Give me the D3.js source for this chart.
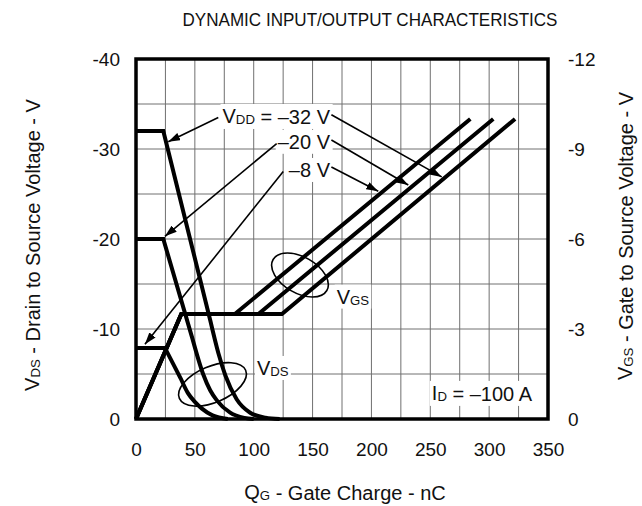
<!DOCTYPE html>
<html>
<head>
<meta charset="utf-8">
<script src="https://cdn.jsdelivr.net/npm/d3@7"></script>
<style>
  body { margin: 0; background: #fff; }
  text { font-family: "Liberation Sans", Arial, sans-serif; fill: #111; }
</style>
</head>
<body>
<div id="chart"></div>
<script>
// ---- data ----
const qTicks = [0, 50, 100, 150, 200, 250, 300, 350];
const vdsTicks = [0, -10, -20, -30, -40];
const vgsTicks = [0, -3, -6, -9, -12];
const vddLevels = ["–32 V", "–20 V", "–8 V"];

// VDS curves: straight part (plateau + fall), then the rounded tail
const vdsHead32 = [[0, -32], [23.2, -32], [63, -11]];
const vdsTail32 = [[63, -11], [70, -7.3], [76, -4.8], [85.5, -2.2], [97, -0.7], [110, -0.15], [122, 0]];
const vdsHead20 = [[0, -20], [23.2, -20], [48, -8.9]];
const vdsTail20 = [[48, -8.9], [57, -5], [63, -3.2], [68.5, -2.1], [80, -0.7], [92, -0.12], [100, 0]];
const vdsHead8 = [[0, -7.9], [24.6, -7.9], [38, -4.5]];
const vdsTail8 = [[38, -4.5], [44, -2.9], [50, -1.9], [56, -1.15], [65, -0.4], [78, 0]];

// VGS curves (right axis)
const vgs8 = [[0, 0], [38.5, -3.5], [84, -3.5], [284, -10]];
const vgs20 = [[0, 0], [38.5, -3.5], [104, -3.5], [303.5, -10]];
const vgs32 = [[0, 0], [38.5, -3.5], [124, -3.5], [322, -10]];

const W = 642, H = 506;
const plot = { left: 136, right: 548, top: 59, bottom: 419 };

const svg = d3.select("#chart").append("svg")
    .attr("width", W)
    .attr("height", H);

const x = d3.scaleLinear().domain([0, 350]).range([plot.left, plot.right]);
const yL = d3.scaleLinear().domain([0, -40]).range([plot.bottom, plot.top]);
const yR = d3.scaleLinear().domain([0, -12]).range([plot.bottom, plot.top]);

// arrow head
svg.append("defs").append("marker")
    .attr("id", "ah")
    .attr("viewBox", "0 0 12 8")
    .attr("refX", 12).attr("refY", 4)
    .attr("markerWidth", 12).attr("markerHeight", 8)
    .attr("markerUnits", "userSpaceOnUse")
    .attr("orient", "auto")
    .append("path").attr("d", "M0,0L12,4L0,8Z").attr("fill", "#000");

// grid
const grid = svg.append("g").attr("stroke", "#707070").attr("stroke-width", 1);
grid.selectAll("line.v")
    .data(d3.range(25, 350, 25))
    .join("line").attr("class", "v")
    .attr("x1", d => x(d)).attr("x2", d => x(d))
    .attr("y1", plot.top).attr("y2", plot.bottom);
grid.selectAll("line.h")
    .data(d3.range(-5, -40, -5))
    .join("line").attr("class", "h")
    .attr("x1", plot.left).attr("x2", plot.right)
    .attr("y1", d => yL(d)).attr("y2", d => yL(d));

// axes (labels only, the frame is drawn as a rect)
const axB = d3.axisBottom(x).tickValues(qTicks).tickSize(0).tickPadding(24);
const axL = d3.axisLeft(yL).tickValues(vdsTicks).tickSize(0).tickPadding(16).tickFormat(d => d === 0 ? "0" : String(d).replace("−", "-"));
const axR = d3.axisRight(yR).tickValues(vgsTicks).tickSize(0).tickPadding(20).tickFormat(d => d === 0 ? "0" : String(d).replace("−", "-"));

function styleAxis(g) {
    g.select(".domain").remove();
    g.selectAll("text").attr("font-size", 19).attr("fill", "#111")
        .attr("font-family", '"Liberation Sans", Arial, sans-serif');
}
svg.append("g").attr("transform", `translate(0,${plot.bottom})`).call(axB).call(styleAxis);
svg.append("g").attr("transform", `translate(${plot.left},0)`).call(axL).call(styleAxis);
svg.append("g").attr("transform", `translate(${plot.right},0)`).call(axR).call(styleAxis);

// curves
const lineLin = d3.line().x(d => x(d[0])).y(d => yL(d[1]));
const lineMono = d3.line().x(d => x(d[0])).y(d => yL(d[1])).curve(d3.curveMonotoneX);
const lineVgs = d3.line().x(d => x(d[0])).y(d => yR(d[1]));

const curves = svg.append("g").attr("fill", "none").attr("stroke", "#000")
    .attr("stroke-width", 4).attr("stroke-linejoin", "miter");
[[vdsHead32, vdsTail32], [vdsHead20, vdsTail20], [vdsHead8, vdsTail8]].forEach(([head, tail]) => {
    curves.append("path").attr("d", lineLin(head) + lineMono(tail).replace(/^M/, "L"));
});
[vgs8, vgs20, vgs32].forEach(s => curves.append("path").attr("d", lineVgs(s)));

// frame
svg.append("rect")
    .attr("x", plot.left).attr("y", plot.top)
    .attr("width", plot.right - plot.left).attr("height", plot.bottom - plot.top)
    .attr("fill", "none").attr("stroke", "#000").attr("stroke-width", 3.5);

// ---- annotations ----
const ann = svg.append("g");

function rich(g, parts, px, py, anchor, size) {
    const t = g.append("text")
        .attr("x", px).attr("y", py)
        .attr("dy", "0.35em")
        .attr("text-anchor", anchor)
        .attr("font-size", size);
    parts.forEach(([s, sub]) => {
        t.append("tspan").attr("font-size", sub ? size * 0.66 : size)
            .attr("dy", sub ? 1 : null)
            .text(s);
        if (sub) t.append("tspan").attr("dy", -1).text("");
    });
    return t;
}

function withBg(t, pad) {
    const b = t.node().getBBox();
    t.lower();
    ann.insert("rect", ":first-child")
        .attr("x", b.x - pad).attr("y", b.y - 1)
        .attr("width", b.width + 2 * pad).attr("height", b.height + 2)
        .attr("fill", "#fff");
}

// VDD labels
const vddLabelY = [-33.67, -30.8, -27.67];
const vddParts = [
    [["V", false], ["DD", true], [" = " + vddLevels[0], false]],
    [[vddLevels[1], false]],
    [[vddLevels[2], false]]
];
const labelTexts = vddParts.map((p, i) => rich(ann, p, x(164.8), yL(vddLabelY[i]), "end", 20));

const idText = rich(ann, [["I", false], ["D", true], [" = –100 A", false]], x(336.4), yL(-2.9), "end", 20);
const vgsText = rich(ann, [["V", false], ["GS", true]], x(170.5), yR(-4.08), "start", 20);
const vdsText = rich(ann, [["V", false], ["DS", true]], x(102.8), yL(-5.67), "start", 20);

[...labelTexts, idText, vgsText, vdsText].forEach(t => withBg(t, 2));
ann.selectAll("text").raise();

// callout arrows (data units)
const arrowsLeft = [
    [[69.9, -33.5], [27.4, -30.8]],
    [[119.5, -30.6], [24.6, -20.3]],
    [[125.1, -27.5], [7.6, -8.3]]
];
const arrowsRight = [
    [[166, -33.8], [259.7, -26.9]],
    [[166, -31.0], [231.3, -26.0]],
    [[166, -28.0], [205.8, -25.3]]
];
ann.selectAll("line.arrow")
    .data(arrowsLeft.concat(arrowsRight))
    .join("line").attr("class", "arrow")
    .attr("x1", d => x(d[0][0])).attr("y1", d => yL(d[0][1]))
    .attr("x2", d => x(d[1][0])).attr("y2", d => yL(d[1][1]))
    .attr("stroke", "#000").attr("stroke-width", 1.6)
    .attr("marker-end", "url(#ah)");

// group ellipses
const ell = [
    { c: [139.3, -16], rx: 31, ry: 18, rot: 30 },
    { c: [65, -3.85], rx: 36, ry: 18, rot: -23 }
];
ann.selectAll("ellipse")
    .data(ell)
    .join("ellipse")
    .attr("transform", d => `translate(${x(d.c[0])},${yL(d.c[1])}) rotate(${d.rot})`)
    .attr("rx", d => d.rx).attr("ry", d => d.ry)
    .attr("fill", "none").attr("stroke", "#000").attr("stroke-width", 1.6);

// titles
svg.append("text")
    .attr("x", 370).attr("y", 19).attr("dy", "0.35em")
    .attr("text-anchor", "middle").attr("font-size", 19)
    .attr("textLength", 375).attr("lengthAdjust", "spacingAndGlyphs")
    .text("DYNAMIC INPUT/OUTPUT CHARACTERISTICS");

const titles = svg.append("g");
rich(titles, [["Q", false], ["G", true], [" - Gate Charge - nC", false]], 345, 492, "middle", 20);
rich(titles, [["V", false], ["DS", true], [" - Drain to Source Voltage - V", false]], 0, 0, "middle", 20)
    .attr("transform", "translate(32,245) rotate(-90)");
rich(titles, [["V", false], ["GS", true], [" - Gate to Source Voltage - V", false]], 0, 0, "middle", 20)
    .attr("transform", "translate(625,236) rotate(-90)");
</script>
</body>
</html>
